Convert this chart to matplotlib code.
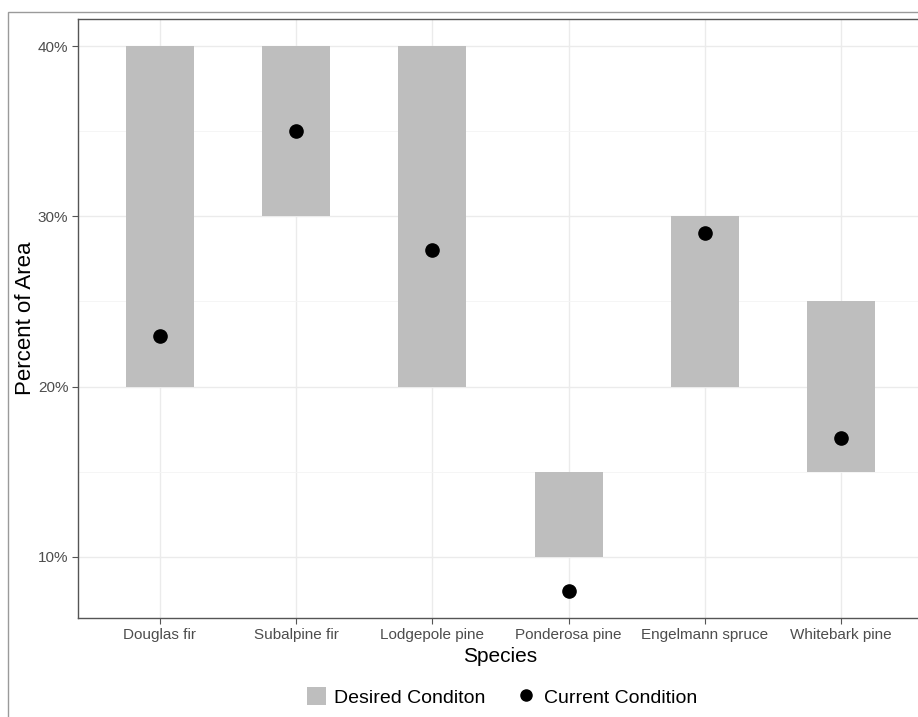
import matplotlib
matplotlib.use("Agg")
import matplotlib.pyplot as plt
from matplotlib.patches import Patch, Rectangle
from matplotlib.lines import Line2D

plt.rcParams['font.family'] = ['Liberation Sans', 'DejaVu Sans']

species = ["Douglas fir", "Subalpine fir", "Lodgepole pine", "Ponderosa pine",
           "Engelmann spruce", "Whitebark pine"]
desired_low = [20, 30, 20, 10, 20, 15]
desired_high = [40, 40, 40, 15, 30, 25]
current = [23, 35, 28, 8, 29, 17]
y_ticks = [10, 20, 30, 40]
y_tick_labels = ["10%", "20%", "30%", "40%"]

W, H = 918, 717
fig = plt.figure(figsize=(W / 100, H / 100), dpi=100)

# outer frame
fig.patches.append(Rectangle((8 / W, -0.5), 1.5, (H - 12) / H + 0.5,
                             transform=fig.transFigure, fill=False,
                             edgecolor="#9a9a9a", linewidth=1.0, zorder=0))

left, top, bottom, right = 78, 19, 618, 923
ax = fig.add_axes([left / W, (H - bottom) / H, (right - left) / W, (bottom - top) / H])

x = list(range(len(species)))
heights = [h - l for l, h in zip(desired_low, desired_high)]
ax.bar(x, heights, bottom=desired_low, width=0.5, color="#bebebe", zorder=2)
ax.plot(x, current, 'o', color="black", markersize=9.5, zorder=3)

ax.set_xlim(-0.6, len(species) - 0.4)
ax.set_ylim(6.4, 41.6)
ax.set_xticks(x)
ax.set_xticklabels(species)
ax.set_yticks(y_ticks)
ax.set_yticklabels(y_tick_labels)
ax.set_yticks([15, 25, 35], minor=True)

ax.grid(True, which='major', color="#ebebeb", linewidth=1.0, zorder=0)
ax.grid(True, which='minor', axis='y', color="#f4f4f4", linewidth=0.6, zorder=0)
ax.set_axisbelow(True)
ax.tick_params(axis='both', which='major', length=4, width=0.8, color="#555555",
               labelcolor="#4d4d4d", labelsize=11, pad=3)
ax.tick_params(which='minor', length=0)
for s in ax.spines.values():
    s.set_color("#555555")
    s.set_linewidth(1.0)

ax.set_xlabel("Species", fontsize=15, labelpad=4)
ax.set_ylabel("Percent of Area", fontsize=16, labelpad=1)

handles = [Patch(facecolor="#bebebe", edgecolor="none", label="Desired Conditon"),
           Line2D([], [], marker='o', color='black', linestyle='none', markersize=8,
                  label="Current Condition")]
fig.legend(handles=handles, loc='center', bbox_to_anchor=(502 / W, 1 - 697 / H),
           ncol=2, frameon=False, fontsize=14, handlelength=1.0, handleheight=1.0,
           columnspacing=1.6, handletextpad=0.4)

fig.savefig("out.png", dpi=100)
